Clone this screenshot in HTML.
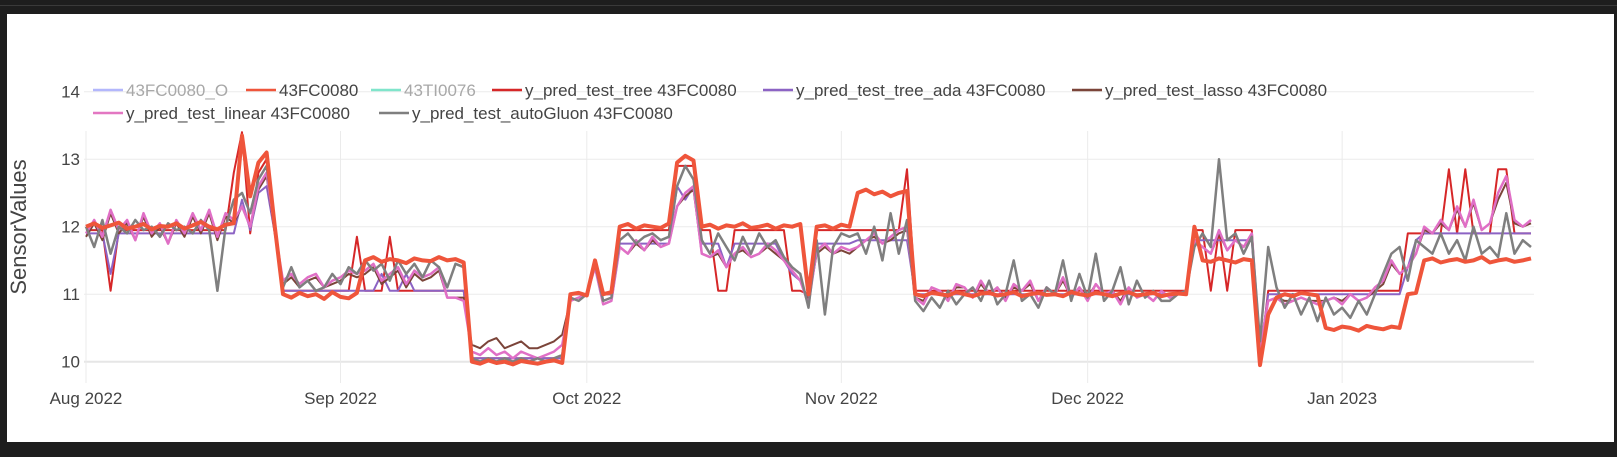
<!DOCTYPE html>
<html><head><meta charset="utf-8">
<style>
html,body{margin:0;padding:0;background:#1e1e1e;width:1617px;height:457px;overflow:hidden;font-family:"Liberation Sans",sans-serif;}
svg{display:block}
</style></head>
<body>
<svg id="chart" width="1617" height="457">
<rect x="0" y="0" width="1617" height="457" fill="#1e1e1e"/>
<rect x="0" y="5" width="1617" height="1" fill="#3a3a3a"/>
<rect x="7" y="14" width="1607" height="428" fill="#ffffff"/>
<g id="grid"></g>
<g id="series"></g>
<g id="axes"></g>
<text x="26" y="227" transform="rotate(-90 26 227)" text-anchor="middle" font-size="22" fill="#444">SensorValues</text>
<g id="legend"></g>
</svg>
<script>
const startDate = new Date(2022, 7, 1);
const yTicks = [10, 11, 12, 13, 14];
const xTickLabels = ["Aug 2022", "Sep 2022", "Oct 2022", "Nov 2022", "Dec 2022", "Jan 2023"];
const xTickDays = [0, 31, 61, 92, 122, 153];

const actual = [12.0,12.05,11.98,12.02,12.06,11.97,12.0,12.04,11.96,12.01,12.0,12.05,11.97,12.02,12.07,12.0,11.96,12.03,12.05,
13.35,12.45,12.95,13.1,12.0,
11.0,10.95,11.02,10.97,11.0,10.93,11.03,10.96,10.94,11.02,
11.5,11.55,11.48,11.52,11.5,11.46,11.53,11.5,11.49,11.55,11.5,11.52,11.47,
10.0,9.97,10.02,9.98,10.0,9.96,10.01,9.99,9.97,10.0,10.02,9.98,
11.0,11.02,10.98,11.5,11.0,11.03,
12.0,12.04,11.97,12.02,12.0,11.98,12.05,
12.95,13.05,12.98,
12.0,12.03,11.97,12.02,12.0,12.05,11.98,12.0,12.03,11.97,12.02,12.0,12.04,
11.0,
12.0,12.02,11.97,12.03,12.0,
12.5,12.55,12.48,12.52,12.45,12.5,12.53,
11.0,10.97,11.02,11.0,10.98,11.03,11.0,10.97,11.01,11.02,10.98,11.0,11.03,10.97,11.0,11.02,10.99,11.0,10.97,11.03,11.0,10.98,11.02,11.0,10.97,11.01,11.03,10.98,11.0,11.02,10.97,11.0,11.01,11.0,
12.0,
11.5,11.48,11.53,11.5,11.47,11.52,11.5,
9.95,
10.7,10.95,11.0,10.97,11.02,11.0,10.98,
10.5,10.47,10.52,10.5,10.46,10.53,10.5,10.48,10.52,10.5,
11.0,11.02,
11.5,11.53,11.47,11.5,11.52,11.48,11.5,11.55,11.47,11.5,11.52,11.48,11.5,11.53];

const predTree = [11.95,11.95,11.95,11.05,11.95,11.95,11.95,11.95,11.95,11.95,11.95,11.95,11.95,11.95,11.95,11.95,11.95,11.95,12.8,
13.4,11.9,12.8,13.0,11.95,
11.05,11.05,11.05,11.05,11.05,11.05,11.05,11.05,11.05,11.85,
11.05,11.05,11.05,11.85,11.05,11.05,11.05,11.05,11.05,11.05,11.05,11.05,11.05,
10.05,10.05,10.05,10.05,10.05,10.05,10.05,10.05,10.05,10.05,10.05,10.05,
11.0,11.0,11.0,11.5,11.0,11.0,
11.95,11.95,11.95,11.95,11.95,11.95,11.95,
12.9,12.9,12.9,
11.95,11.95,11.05,11.05,11.95,11.95,11.95,11.95,11.95,11.95,11.95,11.05,11.05,
11.0,
11.95,11.95,11.95,11.95,11.95,
11.95,11.95,11.95,11.95,11.95,11.95,12.85,
11.05,11.05,11.05,11.05,11.05,11.05,11.05,11.05,11.05,11.05,11.05,11.05,11.05,11.05,11.05,11.05,11.05,11.05,11.05,11.05,11.05,11.05,11.05,11.05,11.05,11.05,11.05,11.05,11.05,11.05,11.05,11.05,11.05,11.05,
11.95,
11.95,11.05,11.95,11.05,11.95,11.95,11.95,
10.0,
11.05,11.05,11.05,11.05,11.05,11.05,11.05,
11.05,11.05,11.05,11.05,11.05,11.05,11.05,11.05,11.05,11.05,
11.9,11.9,
11.9,11.9,11.9,12.85,11.9,12.85,11.9,11.9,11.9,12.85,12.85,11.9,11.9,11.9];

const predTreeAda = [11.9,11.9,11.9,11.3,11.9,11.9,11.9,11.9,11.9,11.9,11.9,11.9,11.9,11.9,11.9,11.9,11.9,11.9,11.9,
12.4,11.95,12.5,12.6,11.9,
11.05,11.05,11.05,11.05,11.05,11.05,11.05,11.05,11.05,11.05,
11.05,11.05,11.3,11.05,11.05,11.3,11.05,11.05,11.05,11.05,11.05,11.05,11.05,
10.05,10.05,10.05,10.05,10.05,10.05,10.05,10.05,10.05,10.05,10.05,10.05,
11.0,11.0,11.0,11.45,11.0,11.0,
11.75,11.75,11.75,11.75,11.75,11.75,11.75,
12.6,12.4,12.6,
11.75,11.75,11.75,11.4,11.75,11.75,11.75,11.75,11.75,11.75,11.5,11.3,11.2,
10.9,
11.75,11.75,11.75,11.75,11.75,
11.8,11.8,11.8,11.8,11.8,11.8,11.8,
11.0,11.0,11.0,11.0,11.0,11.0,11.0,11.0,11.0,11.0,11.0,11.0,11.0,11.0,11.0,11.0,11.0,11.0,11.0,11.0,11.0,11.0,11.0,11.0,11.0,11.0,11.0,11.0,11.0,11.0,11.0,11.0,11.0,11.0,
11.8,
11.8,11.8,11.8,11.8,11.8,11.8,11.8,
10.1,
11.0,11.0,11.0,11.0,11.0,11.0,11.0,
11.0,11.0,11.0,11.0,11.0,11.0,11.0,11.0,11.0,11.0,
11.4,11.8,
11.9,11.9,11.9,11.9,11.9,11.9,11.9,11.9,11.9,11.9,11.9,11.9,11.9,11.9];

const predLasso = [11.85,12.05,11.8,12.2,11.9,12.05,11.8,12.15,11.85,12.0,11.75,12.05,11.85,12.15,11.9,12.2,11.8,12.15,12.05,
12.3,12.0,12.55,12.75,11.9,
11.15,11.25,11.1,11.2,11.25,11.1,11.15,11.2,11.3,11.25,
11.3,11.4,11.15,11.25,11.35,11.1,11.3,11.2,11.25,11.35,10.95,10.95,10.95,
10.25,10.2,10.3,10.35,10.2,10.25,10.3,10.2,10.2,10.25,10.3,10.4,
10.9,10.95,11.0,11.4,10.85,10.9,
11.7,11.6,11.75,11.65,11.8,11.7,11.75,
12.3,12.45,12.55,
11.6,11.55,11.6,11.4,11.6,11.65,11.55,11.6,11.7,11.6,11.5,11.35,11.2,
10.9,
11.6,11.7,11.6,11.65,11.6,
11.7,11.8,11.85,11.75,11.8,11.9,11.95,
10.95,10.9,11.1,11.05,10.95,11.1,11.1,10.95,11.15,11.0,11.1,10.95,11.1,11.05,11.15,10.9,11.1,11.0,11.2,10.95,11.1,10.95,11.15,11.0,11.05,10.9,11.1,10.95,11.0,10.9,11.05,10.95,11.0,11.05,
11.8,
11.7,11.6,11.9,11.65,11.8,11.7,11.85,
10.2,
10.9,10.95,10.9,10.9,10.95,10.9,10.9,
10.9,10.95,10.9,11.0,10.9,10.95,11.05,11.15,11.45,11.3,
11.4,11.6,
11.95,11.9,12.05,11.95,12.25,12.0,12.35,11.95,12.05,12.4,12.65,12.05,12.0,12.05];

const predLinear = [11.9,12.1,11.85,12.25,11.95,12.1,11.8,12.2,11.9,12.05,11.75,12.1,11.9,12.2,11.95,12.25,11.85,12.2,12.1,
12.3,12.0,12.6,12.8,11.95,
11.2,11.3,11.15,11.25,11.3,11.1,11.2,11.25,11.35,11.3,
11.35,11.45,11.2,11.3,11.4,11.15,11.35,11.25,11.3,11.4,10.95,10.95,10.9,
10.15,10.1,10.2,10.1,10.15,10.05,10.15,10.1,10.05,10.1,10.15,10.25,
10.9,10.95,11.0,11.4,10.85,10.9,
11.7,11.6,11.8,11.65,11.85,11.7,11.75,
12.3,12.5,12.6,
11.6,11.55,11.65,11.4,11.6,11.7,11.55,11.6,11.75,11.65,11.5,11.35,11.2,
10.85,
11.65,11.75,11.6,11.7,11.65,
11.7,11.8,11.9,11.75,11.85,11.95,12.0,
10.95,10.85,11.1,11.05,10.9,11.15,11.1,10.95,11.2,11.0,11.1,10.9,11.15,11.05,11.2,10.9,11.1,11.0,11.25,10.95,11.1,10.9,11.15,11.0,11.05,10.85,11.1,10.95,11.0,10.9,11.05,10.95,11.0,11.05,
11.8,
11.7,11.6,11.95,11.65,11.8,11.7,11.9,
10.2,
10.9,10.95,10.85,10.9,10.95,10.9,10.85,
10.9,10.95,10.85,11.0,10.9,10.95,11.1,11.2,11.5,11.3,
11.4,11.6,
12.0,11.9,12.1,11.95,12.3,12.0,12.4,11.95,12.05,12.5,12.75,12.1,12.0,12.1];

const predAutoGluon = [12.0,11.7,12.1,11.6,12.0,11.9,12.1,11.95,12.0,11.85,12.05,11.95,12.0,11.9,12.1,11.95,11.05,12.0,12.4,
12.5,12.2,12.7,12.9,12.0,
11.1,11.4,11.1,11.2,11.05,11.1,11.3,11.15,11.4,11.3,
11.5,11.35,11.45,11.2,11.5,11.3,11.45,11.25,11.5,11.4,11.1,11.45,11.4,
10.05,10.0,10.05,10.0,10.05,10.0,10.05,10.0,10.05,10.0,10.05,10.1,
10.95,10.9,11.0,11.45,10.9,10.95,
11.8,11.9,11.75,11.85,11.9,11.8,11.85,
12.6,12.9,12.7,
11.8,11.6,11.9,11.7,11.5,11.85,11.6,11.9,11.7,11.8,11.55,11.4,11.3,
10.8,
11.8,10.7,11.7,11.9,11.85,
11.9,11.6,12.0,11.5,12.2,11.6,12.1,
10.9,10.75,10.95,10.8,11.05,10.85,11.0,11.1,10.9,11.2,10.85,11.0,11.5,10.9,11.0,10.8,11.1,11.0,11.5,10.9,11.3,10.95,11.6,10.9,11.05,11.4,10.85,11.2,10.95,11.05,10.9,10.9,11.0,11.05,
11.7,
11.9,11.7,13.0,11.8,11.9,11.6,11.85,
10.3,
11.7,11.1,10.8,11.0,10.7,10.95,10.6,
10.95,10.7,10.8,10.65,10.9,10.7,11.0,11.3,11.6,11.7,
11.2,11.8,
11.7,11.6,11.9,11.6,11.8,11.5,12.0,11.6,11.7,11.55,12.2,11.6,11.8,11.7];

// axis functions
const PX0 = 86, PXPERDAY = 8.21, PLOT_L = 84, PLOT_R = 1534, PLOT_T = 131, PLOT_B = 383;
const Y12 = 226.7, PXPERUNIT = 67.5;
function xScale(day){ return PX0 + day * PXPERDAY; }
function yScale(v){ return Y12 - (v - 12) * PXPERUNIT; }

const NS = "http://www.w3.org/2000/svg";
const grid = document.getElementById('grid');
const axes = document.getElementById('axes');
const seriesG = document.getElementById('series');

yTicks.forEach(function(t){
  const y = yScale(t);
  const l = document.createElementNS(NS,'line');
  l.setAttribute('x1', PLOT_L); l.setAttribute('x2', PLOT_R);
  l.setAttribute('y1', y); l.setAttribute('y2', y);
  l.setAttribute('stroke', t === 10 ? '#e6e6e6' : '#ebebeb');
  l.setAttribute('stroke-width', t === 10 ? 2 : 1);
  
  
  grid.appendChild(l);
  const tx = document.createElementNS(NS,'text');
  tx.setAttribute('x', 80); tx.setAttribute('y', y + 6);
  tx.setAttribute('text-anchor', 'end'); tx.setAttribute('font-size', '17'); tx.setAttribute('fill', '#444');
  tx.textContent = t;
  
  
  axes.appendChild(tx);
});
xTickDays.forEach(function(d, i){
  const x = xScale(d);
  const l = document.createElementNS(NS,'line');
  l.setAttribute('x1', x); l.setAttribute('x2', x);
  l.setAttribute('y1', PLOT_T); l.setAttribute('y2', PLOT_B);
  l.setAttribute('stroke', '#ebebeb'); l.setAttribute('stroke-width', 1);
  
  
  grid.appendChild(l);
  const tx = document.createElementNS(NS,'text');
  tx.setAttribute('x', x); tx.setAttribute('y', 404);
  tx.setAttribute('text-anchor', 'middle'); tx.setAttribute('font-size', '17'); tx.setAttribute('fill', '#444');
  tx.textContent = xTickLabels[i];
  
  
  axes.appendChild(tx);
});

function drawSeries(arr, color, width, name){
  let pts = [];
  for (let i = 0; i < arr.length; i++){ pts.push(xScale(i).toFixed(1) + ',' + yScale(arr[i]).toFixed(1)); }
  const p = document.createElementNS(NS,'polyline');
  p.setAttribute('points', pts.join(' '));
  p.setAttribute('fill', 'none'); p.setAttribute('stroke', color);
  p.setAttribute('stroke-width', width); p.setAttribute('stroke-linejoin', 'round');
  
  
  seriesG.appendChild(p);
}
drawSeries(predTree, '#d62728', 2, 'series-y-pred-tree');
drawSeries(predTreeAda, '#8c63c4', 2, 'series-y-pred-tree-ada');
drawSeries(predLasso, '#7b4439', 2, 'series-y-pred-lasso');
drawSeries(predLinear, '#e06fc6', 2.5, 'series-y-pred-linear');
drawSeries(predAutoGluon, '#7f7f7f', 2.5, 'series-y-pred-autogluon');
drawSeries(actual, '#ef553b', 4, 'series-43fc0080');

const legendNames = ["43FC0080_O","43FC0080","43TI0076","y_pred_test_tree 43FC0080","y_pred_test_tree_ada 43FC0080","y_pred_test_lasso 43FC0080","y_pred_test_linear 43FC0080","y_pred_test_autoGluon 43FC0080"];
const legendColors = ["#b3b7fc","#ef553b","#80e5cb","#d62728","#8c63c4","#7b4439","#e377c2","#7f7f7f"];
const legendHidden = [true,false,true,false,false,false,false,false];
const legendX = [93,246,371,492,763,1072,93,379];
const legendRow = [0,0,0,0,0,0,1,1];
const legend = document.getElementById('legend');
legendNames.forEach(function(n, i){
  const y = 90 + legendRow[i] * 23;
  const g = document.createElementNS(NS,'g');
  
  
  const l = document.createElementNS(NS,'line');
  l.setAttribute('x1', legendX[i]); l.setAttribute('x2', legendX[i] + 30);
  l.setAttribute('y1', y); l.setAttribute('y2', y);
  l.setAttribute('stroke', legendColors[i]); l.setAttribute('stroke-width', 2.5);
  
  
  g.appendChild(l);
  const t = document.createElementNS(NS,'text');
  t.setAttribute('x', legendX[i] + 33); t.setAttribute('y', y + 6);
  t.setAttribute('font-size', '17'); t.setAttribute('fill', legendHidden[i] ? '#a8a8a8' : '#444');
  t.textContent = n;
  
  
  g.appendChild(t);
  legend.appendChild(g);
});
</script>
</body></html>
